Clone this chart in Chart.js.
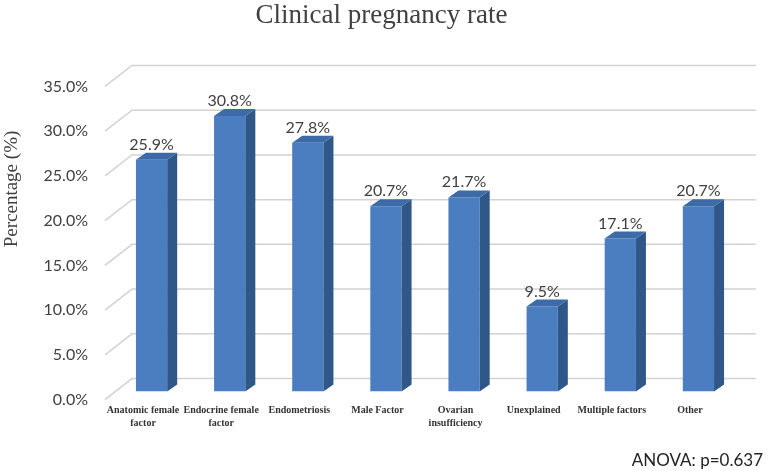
<!DOCTYPE html>
<html>
<head>
<meta charset="utf-8">
<script src="https://cdn.jsdelivr.net/npm/chart.js@4.4.1/dist/chart.umd.min.js"></script>
<style>
html, body { margin: 0; padding: 0; background: #fff; }
#wrap { width: 771px; height: 471px; }
</style>
</head>
<body>
<div id="wrap"><canvas id="rateChart" width="771" height="471"></canvas></div>
<script>
const categories = [['Anatomic female', 'factor'], ['Endocrine female', 'factor'], 'Endometriosis', 'Male Factor',
    ['Ovarian', 'insufficiency'], 'Unexplained', 'Multiple factors', 'Other'];
const rates = [25.9, 30.8, 27.8, 20.7, 21.7, 9.5, 17.1, 20.7];
const yTicks = [0, 5, 10, 15, 20, 25, 30, 35];

const DEPTH_X = 10, DEPTH_Y = 7;    // bar depth (side + top faces)
const SHIFT_X = 8.5, SHIFT_Y = -8;  // bars stand a bit behind the floor edge
const WALL_X = 28, WALL_Y = 21;     // back wall offset for the gridlines

const textColor = '#404040';

// Fake 3D: back-wall gridlines, shifted bars, side/top faces and value labels
const threeD = {
    id: 'threeD',
    beforeDatasetsDraw(chart) {
        const { ctx, chartArea, scales: { y } } = chart;
        ctx.save();
        ctx.strokeStyle = '#d2d2d2';
        ctx.lineWidth = 1.5;
        yTicks.forEach(v => {
            const py = y.getPixelForValue(v);
            ctx.beginPath();
            ctx.moveTo(chartArea.left + 1, py);
            ctx.lineTo(chartArea.left + WALL_X, py - WALL_Y);
            ctx.lineTo(chartArea.right + WALL_X - 1, py - WALL_Y);
            ctx.stroke();
        });
        ctx.restore();

        ctx.save();
        ctx.translate(SHIFT_X, SHIFT_Y); // restored in afterDatasetsDraw
    },
    afterDatasetsDraw(chart) {
        const ctx = chart.ctx;
        chart.getDatasetMeta(0).data.forEach((bar, i) => {
            const { x, y, width, base } = bar.getProps(['x', 'y', 'width', 'base'], true);
            const l = x - width / 2, r = x + width / 2;

            // side
            ctx.fillStyle = '#2f5787';
            ctx.beginPath();
            ctx.moveTo(r, y);
            ctx.lineTo(r + DEPTH_X, y - DEPTH_Y);
            ctx.lineTo(r + DEPTH_X, base - DEPTH_Y);
            ctx.lineTo(r, base);
            ctx.closePath();
            ctx.fill();

            // top
            ctx.fillStyle = '#3d6ba7';
            ctx.beginPath();
            ctx.moveTo(l, y);
            ctx.lineTo(l + DEPTH_X, y - DEPTH_Y);
            ctx.lineTo(r + DEPTH_X, y - DEPTH_Y);
            ctx.lineTo(r, y);
            ctx.closePath();
            ctx.fill();

            // value label
            ctx.fillStyle = textColor;
            ctx.font = '16px Lato';
            ctx.textAlign = 'center';
            ctx.textBaseline = 'alphabetic';
            ctx.fillText(rates[i].toFixed(1) + '%', x, y - 10);
        });
        ctx.restore();
    },
    afterDraw(chart) {
        const ctx = chart.ctx;
        ctx.save();
        ctx.translate(12, 189);
        ctx.rotate(-Math.PI / 2);
        ctx.fillStyle = textColor;
        ctx.font = '19px "Liberation Serif"';
        ctx.textAlign = 'center';
        ctx.textBaseline = 'middle';
        ctx.fillText('Percentage (%)', 0, 0);
        ctx.restore();
    }
};

const ctx = document.getElementById('rateChart').getContext('2d');
const chart = new Chart(ctx, {
    type: 'bar',
    data: {
        labels: categories,
        datasets: [{
            data: rates,
            backgroundColor: '#4a7ec0',
            borderWidth: 0,
            barPercentage: 0.4,
            categoryPercentage: 1.0
        }]
    },
    options: {
        responsive: false,
        animation: false,
        layout: { padding: { left: 0, right: 8, top: 0, bottom: 0 } },
        plugins: {
            legend: { display: false },
            tooltip: { enabled: false },
            title: {
                display: true,
                text: 'Clinical pregnancy rate',
                color: textColor,
                font: { family: '"Liberation Serif"', size: 27, weight: 'normal' },
                padding: { top: 0, bottom: 54 }
            },
            subtitle: {
                display: true,
                position: 'bottom',
                align: 'end',
                text: 'ANOVA: p=0.637',
                color: '#222',
                font: { family: 'Lato', size: 17, weight: 'normal' },
                padding: { top: 17, bottom: 0 }
            }
        },
        scales: {
            x: {
                grid: { display: false, drawTicks: false },
                border: { display: false },
                ticks: {
                    color: '#333',
                    font: { family: '"Liberation Serif"', size: 10, weight: 'bold', lineHeight: 1.3 },
                    maxRotation: 0,
                    autoSkip: false,
                    padding: 4
                }
            },
            y: {
                min: 0,
                max: 35,
                afterFit(axis) { axis.width = 104; },
                afterBuildTicks(axis) { axis.ticks = yTicks.map(v => ({ value: v })); },
                grid: { display: false, drawTicks: false },
                border: { display: false },
                ticks: {
                    color: textColor,
                    font: { family: 'Lato', size: 16 },
                    padding: 16,
                    callback: v => v.toFixed(1) + '%'
                }
            },
            // empty right axis: only reserves room for the back wall
            yRight: {
                position: 'right',
                min: 0,
                max: 35,
                afterFit(axis) { axis.width = 34; },
                grid: { display: false, drawTicks: false },
                border: { display: false },
                ticks: { display: false }
            }
        }
    },
    plugins: [threeD]
});
</script>
</body>
</html>
